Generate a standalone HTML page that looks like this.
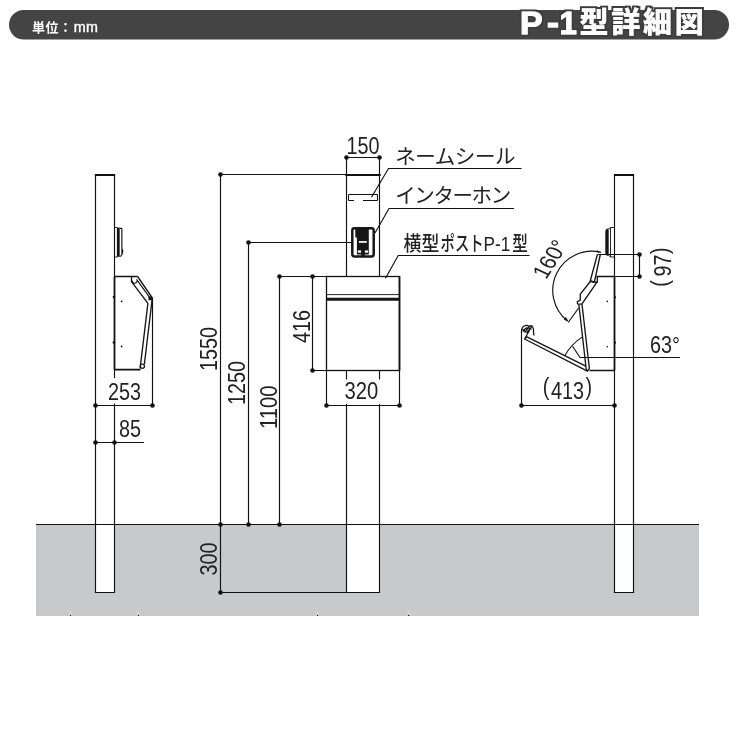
<!DOCTYPE html>
<html lang="ja">
<head>
<meta charset="utf-8">
<title>P-1型詳細図</title>
<style>
  html, body { margin: 0; padding: 0; background: #fff; }
  body { width: 740px; height: 740px; overflow: hidden; }
  svg { display: block; will-change: transform; }
  .ln { stroke: #111; stroke-width: 1.15; fill: none; }
  .ln2 { stroke: #111; stroke-width: 1.7; fill: none; }
  .lid { stroke: #161616; stroke-width: 1.35; fill: none; stroke-linejoin: round; }
  .top { stroke: #111; stroke-width: 2; fill: none; }
  .thin { stroke: #111; stroke-width: 0.9; fill: none; }
  .dot { fill: #111; stroke: none; }
  .num { font-family: "Liberation Sans", "Noto Sans CJK JP", sans-serif; font-size: 23px; fill: #222; }
  .jp { font-family: "Liberation Sans", "Noto Sans CJK JP", sans-serif; font-weight: 400; font-size: 20.5px; fill: #222; }
  .unit { font-family: "Liberation Sans", "Noto Sans CJK JP", sans-serif; font-weight: 700; font-size: 13px; fill: #fff; letter-spacing: 0.5px; }
  .title { font-family: "Liberation Sans", "Noto Sans CJK JP", sans-serif; font-weight: 900; font-size: 29px; fill: #fff; }
  .lat { font-weight: 700; font-size: 30.5px; stroke: #fff; stroke-width: 0.9px; }
  .kj { letter-spacing: 2.8px; }
</style>
</head>
<body>
<svg width="740" height="740" viewBox="0 0 740 740">
  <rect x="0" y="0" width="740" height="740" fill="#ffffff"/>

  <defs>
    <filter id="outline" x="-5%" y="-30%" width="110%" height="160%">
      <feMorphology in="SourceAlpha" operator="dilate" radius="2" result="fat"/>
      <feFlood flood-color="#3e3e3e" result="col"/>
      <feComposite in="col" in2="fat" operator="in" result="edge"/>
      <feMerge><feMergeNode in="edge"/><feMergeNode in="SourceGraphic"/></feMerge>
    </filter>
  </defs>

  <!-- header bar -->
  <g id="header">
    <rect x="9" y="10" width="720" height="29.5" rx="14.75" ry="14.75" fill="#444444"/>
    <text class="unit" x="32" y="32.3">単位：<tspan x="73.8" style="font-size:14.3px;font-weight:400;letter-spacing:0.4px;stroke:#fff;stroke-width:0.4px">mm</tspan></text>
    <text class="title" filter="url(#outline)" y="34"><tspan class="lat" x="520" textLength="22.6" lengthAdjust="spacingAndGlyphs">P</tspan><tspan class="lat" x="546.9" dy="-1" textLength="12" lengthAdjust="spacingAndGlyphs">-</tspan><tspan class="lat" x="559.6" dy="1" textLength="17.3" lengthAdjust="spacingAndGlyphs">1</tspan><tspan class="kj" x="579.4" dy="-1.1">型詳細図</tspan></text>
  </g>

  <!-- ground -->
  <g id="ground">
    <rect x="36" y="524.5" width="663" height="91.5" fill="#c7c9ca"/>
    <rect x="95.5" y="525" width="19" height="67.5" fill="#fff"/>
    <rect x="346.5" y="525" width="33" height="67.5" fill="#fff"/>
    <rect x="614.5" y="525" width="19" height="67.5" fill="#fff"/>
    <line class="ln" x1="36" y1="524.5" x2="699" y2="524.5"/>
  </g>

  <!-- LEFT: side view closed -->
  <g id="left-view">
    <path class="ln" d="M95.5 174.5 V592.5 H114.5 V403.5 M114.5 378 V174.5"/>
    <line class="top" x1="94.9" y1="175" x2="115.1" y2="175"/>
    <!-- intercom side -->
    <path class="thin" d="M114.5 227.5 H117.5 M114.5 257 H117.5"/>
    <rect x="116.9" y="227.6" width="2.8" height="29.2" fill="#161616"/>
    <path class="ln" d="M119.7 228.4 H121.3 Q121.9 228.5 121.9 229.5 V254.2 Q121.7 256.2 119.7 256.4"/>
    <path d="M122 248.4 Q124.8 251 122 254.4 Z" fill="#161616"/>
    <!-- mailbox side -->
    <path class="ln2" d="M114.5 276.5 V369.7 M114.5 276.5 H137.6 M114.5 369.7 H140.5"/>
    <path class="lid" d="M131.5 276.5 V281.7 L147.9 303.4 L140.1 368.3"/>
    <path class="lid" d="M137.6 276.5 L152.3 297.8 L144.4 364"/>
    <path class="ln" d="M136.5 279.3 L149.7 297.3"/>
    <path class="ln" d="M132 280.5 A2.4 2.4 0 0 0 137.3 280.6"/>
    <path d="M148.3 296.8 L151.6 296.2 L152.8 298.2 L152.3 300.3 L148.6 300.3 Z" fill="#161616"/>
    <circle cx="142.4" cy="366.2" r="2.1" fill="#fff" stroke="#161616" stroke-width="1.3"/>
    <circle class="dot" cx="113.9" cy="297" r="1.3"/>
    <circle class="dot" cx="113.9" cy="342.5" r="1.3"/>
    <circle class="dot" cx="121.6" cy="301.4" r="0.9"/>
    <circle class="dot" cx="121.6" cy="346.5" r="0.9"/>
    <!-- dim 253 -->
    <line class="ln" x1="152.5" y1="298" x2="152.5" y2="405.5"/>
    <line class="ln" x1="95.5" y1="405.5" x2="152.5" y2="405.5"/>
    <circle class="dot" cx="95.5" cy="405.5" r="2.3"/>
    <circle class="dot" cx="152.5" cy="405.5" r="2.3"/>
    <text class="num" transform="translate(124.6 400) scale(0.86 1)" text-anchor="middle">253</text>
    <!-- dim 85 -->
    <line class="ln" x1="95.5" y1="442.5" x2="144" y2="442.5"/>
    <circle class="dot" cx="95.5" cy="442.5" r="2.3"/>
    <circle class="dot" cx="114.5" cy="442.5" r="2.3"/>
    <text class="num" transform="translate(130 437) scale(0.86 1)" text-anchor="middle">85</text>
  </g>

  <!-- CENTER: front view -->
  <g id="front-view">
    <!-- post -->
    <path class="ln" d="M346.5 157.5 V276.5 M379.5 157.5 V276.5 M346.5 157.5 H379.5"/>
    <path class="ln" d="M346.5 370.5 V379.5 M379.5 370.5 V379.5 M346.5 404 V592.5 H379.5 V404"/>
    <line class="top" x1="345.3" y1="175" x2="380.7" y2="175"/>
    <!-- dim 150 -->
    <circle class="dot" cx="346.5" cy="157.5" r="2.3"/>
    <circle class="dot" cx="379.5" cy="157.5" r="2.3"/>
    <text class="num" transform="translate(363 153.7) scale(0.86 1)" text-anchor="middle">150</text>
    <!-- name seal -->
    <path class="ln" style="stroke-width:1" d="M354 200.5 H348.5 V194.5 H377.5 V200.5 H363"/>
    <!-- intercom -->
    <rect x="352.3" y="228.3" width="21.4" height="28.2" rx="2.2" ry="2.2" fill="#fff" stroke="#161616" stroke-width="2.5"/>
    <path d="M355.3 229 H368.8 V254.5 H364.7 V256 H361.3 V254.5 H356.9 V237.5 H355.3 Z" fill="#161616"/>
    <rect x="358.9" y="241.1" width="7.9" height="1.7" fill="#fff"/>
    <rect x="357.9" y="250.4" width="3.2" height="2.3" fill="#fff"/>
    <rect x="364.9" y="250.4" width="3.2" height="2.3" fill="#fff"/>
    <!-- mailbox -->
    <rect class="ln" style="stroke-width:1.3" x="326.5" y="276.5" width="73" height="94"/>
    <line class="ln2" x1="399.5" y1="276.5" x2="399.5" y2="370.5"/>
    <line class="thin" x1="326.5" y1="294.6" x2="399.5" y2="294.6"/>
    <line x1="326.5" y1="299.2" x2="399.5" y2="299.2" stroke="#161616" stroke-width="3"/>
    <!-- dim 320 -->
    <path class="ln" d="M326.5 370.5 V405.5 M399.5 370.5 V405.5 M326.5 405.5 H399.5"/>
    <circle class="dot" cx="326.5" cy="405.5" r="2.3"/>
    <circle class="dot" cx="399.5" cy="405.5" r="2.3"/>
    <text class="num" transform="translate(361.3 398.8) scale(0.88 1)" text-anchor="middle">320</text>
    <!-- dim 1550 -->
    <path class="ln" d="M346.5 174.5 H220.5 V592.5 H346.5"/>
    <circle class="dot" cx="220.5" cy="174.5" r="2.3"/>
    <circle class="dot" cx="220.5" cy="524.5" r="2.3"/>
    <circle class="dot" cx="220.5" cy="592.5" r="2.3"/>
    <text class="num" transform="translate(216.5 349) rotate(-90) scale(0.86 1)" text-anchor="middle">1550</text>
    <text class="num" transform="translate(217.2 559) rotate(-90) scale(0.86 1)" text-anchor="middle">300</text>
    <!-- dim 1250 -->
    <path class="ln" d="M351 242.5 H248.5 V524.5"/>
    <circle class="dot" cx="248.5" cy="242.5" r="2.3"/>
    <circle class="dot" cx="248.5" cy="524.5" r="2.3"/>
    <text class="num" transform="translate(244.5 383) rotate(-90) scale(0.86 1)" text-anchor="middle">1250</text>
    <!-- dim 1100 -->
    <path class="ln" d="M326.5 276.5 H279.5 V524.5"/>
    <circle class="dot" cx="279.5" cy="276.5" r="2.3"/>
    <circle class="dot" cx="279.5" cy="524.5" r="2.3"/>
    <text class="num" transform="translate(277 407.3) rotate(-90) scale(0.88 1)" text-anchor="middle">1100</text>
    <!-- dim 416 -->
    <path class="ln" d="M312.5 276.5 V370.5 H326.5"/>
    <circle class="dot" cx="312.5" cy="276.5" r="2.3"/>
    <circle class="dot" cx="312.5" cy="370.5" r="2.3"/>
    <text class="num" transform="translate(310 326.5) rotate(-90) scale(0.86 1)" text-anchor="middle">416</text>
    <!-- leaders -->
    <path class="ln" d="M371.5 197.3 L388.5 168.5 H521.5"/>
    <path class="ln" d="M375 233 L389 208.5 H514"/>
    <path class="ln" d="M385.5 278.3 L398.2 255.5 H529.5"/>
    <text class="jp" x="395.2" y="163.8" style="letter-spacing:-0.4px">ネームシール</text>
    <text class="jp" x="395.2" y="203.3" style="letter-spacing:-1.4px">インターホン</text>
    <text class="jp" y="250.5" style="font-weight:500"><tspan x="403.6" textLength="35.7" lengthAdjust="spacingAndGlyphs">横型</tspan><tspan x="440.6" textLength="43" lengthAdjust="spacingAndGlyphs">ポスト</tspan><tspan x="483.6" textLength="26.8" lengthAdjust="spacingAndGlyphs">P-1</tspan><tspan x="512.2" textLength="15.6" lengthAdjust="spacingAndGlyphs">型</tspan></text>
  </g>

  <!-- RIGHT: side view open -->
  <g id="right-view">
    <path class="ln" d="M614.5 174.5 V592.5 H633.5 V174.5"/>
    <line class="top" x1="613.9" y1="175" x2="634.1" y2="175"/>
    <!-- intercom side -->
    <path class="thin" d="M614.5 227.5 H610.5 V257 H614.5"/>
    <path d="M608.7 228.4 H607.6 Q605.3 228.8 605.3 231.5 V253 Q605.3 255.6 607.6 255.8 H608.7 Z" fill="#161616"/>
    <path class="thin" d="M608.6 228.7 L610.5 227.8 M608.6 255.5 L610.5 256.8"/>
    <!-- dim 97 -->
    <path class="ln" d="M597.4 254.5 H639.5 V276.5 H614.5"/>
    <circle class="dot" cx="639.5" cy="254.5" r="2.3"/>
    <circle class="dot" cx="639.5" cy="276.5" r="2.3"/>
    <text class="num" transform="translate(671 267) rotate(-90) scale(0.86 1)" text-anchor="middle"><tspan dy="-3">(</tspan><tspan dx="4" dy="3">97</tspan><tspan dx="0.8" dy="-3">)</tspan></text>
    <!-- mailbox body -->
    <path class="ln2" d="M614.5 276.5 V370.5 M596.5 276.5 H614.5"/>
    <path class="lid" d="M597.3 276.5 V282.2 L594.4 282.2 M589.5 370.5 H614.5"/>
    <circle class="dot" cx="615" cy="297.3" r="1.1"/>
    <circle class="dot" cx="615" cy="342.7" r="1.1"/>
    <circle class="dot" cx="607.3" cy="301.4" r="0.8"/>
    <circle class="dot" cx="607.3" cy="346.8" r="0.8"/>
    <!-- open lid upper flap -->
    <path class="lid" d="M597.4 254.5 L590.3 280.8 L594.4 282 L600.3 254.5"/>
    <path d="M590 280.3 L594.8 281.4 L594.4 283 L589.8 282 Z" fill="#161616"/>
    <path class="lid" d="M590.3 281.5 L580.3 294.2 V300.2 L577.4 301.6 V303.8 L581.8 304.2 L596.8 282.4"/>
    <!-- long lid -->
    <path class="lid" d="M578.8 304 L586.2 369 L587.4 371.2 L589.4 368.5 L582 304.3"/>
    <!-- lower flap -->
    <path class="lid" d="M585.8 366.2 L526.9 336.8 L524.6 339 L587.4 371.2"/>
    <path class="ln" style="stroke-width:1.25" d="M521.5 333 Q521 327.5 524.5 325.8 Q527.5 324.8 529 326.5 Q531 325 532.5 326.5 Q534 329 533.5 332 L534 335.5 M523 331.5 Q525 327.5 528.5 327.5 L531.5 329.5 M524.5 332.5 L529.5 326.5 M526.5 333 L531.5 327 M525 338 L529.5 330.5 M522.5 329.5 L526 332"/>
    <!-- angle 63 -->
    <path class="ln" d="M564.8 355.7 Q570.5 345 582 337.1"/>
    <path class="ln" d="M572.6 346.2 L580 357.5 H680"/>
    <text class="num" transform="translate(650 352.8) scale(0.86 1)">63°</text>
    <!-- angle 160 -->
    <path class="ln" d="M601 252.3 A39.2 39.2 0 0 0 567.4 321"/>
    <path class="ln" d="M568.2 322.5 L578.6 308"/>
    <path d="M568.6 321.8 L563.8 319.4 L566 317 Z" fill="#161616"/>
    <path d="M601.6 252.6 L596.6 252.6 L597.2 250.2 Z" fill="#161616"/>
    <text class="num" transform="translate(557.3 262.4) rotate(-57) skewX(8) scale(0.88 1)" text-anchor="middle">160°</text>
    <!-- dim 413 -->
    <path class="ln" d="M521.5 333 V405.5 H614.5"/>
    <circle class="dot" cx="521.5" cy="405.5" r="2.3"/>
    <circle class="dot" cx="614.5" cy="405.5" r="2.3"/>
    <text class="num" transform="translate(567.4 398.8) scale(0.86 1)" text-anchor="middle"><tspan dy="-3.4">(</tspan><tspan dx="1.8" dy="3.4">413</tspan><tspan dx="1.8" dy="-3.4">)</tspan></text>
  </g>

  <!-- bottom ticks -->
  <g id="ticks">
    <g fill="#d9dadb" opacity="0.5">
      <rect x="68.5" y="610.5" width="3.5" height="4.5"/>
      <rect x="136.5" y="610.5" width="3.5" height="4.5"/>
      <rect x="315.5" y="610.5" width="3.5" height="4.5"/>
      <rect x="407" y="610.5" width="4" height="4.5"/>
    </g>
    <g fill="#111">
      <rect x="70" y="615" width="1" height="1"/>
      <rect x="138" y="615" width="1" height="1"/>
      <rect x="317" y="615" width="1" height="1"/>
      <rect x="408" y="615" width="1.2" height="1"/>
    </g>
  </g>
</svg>
</body>
</html>
